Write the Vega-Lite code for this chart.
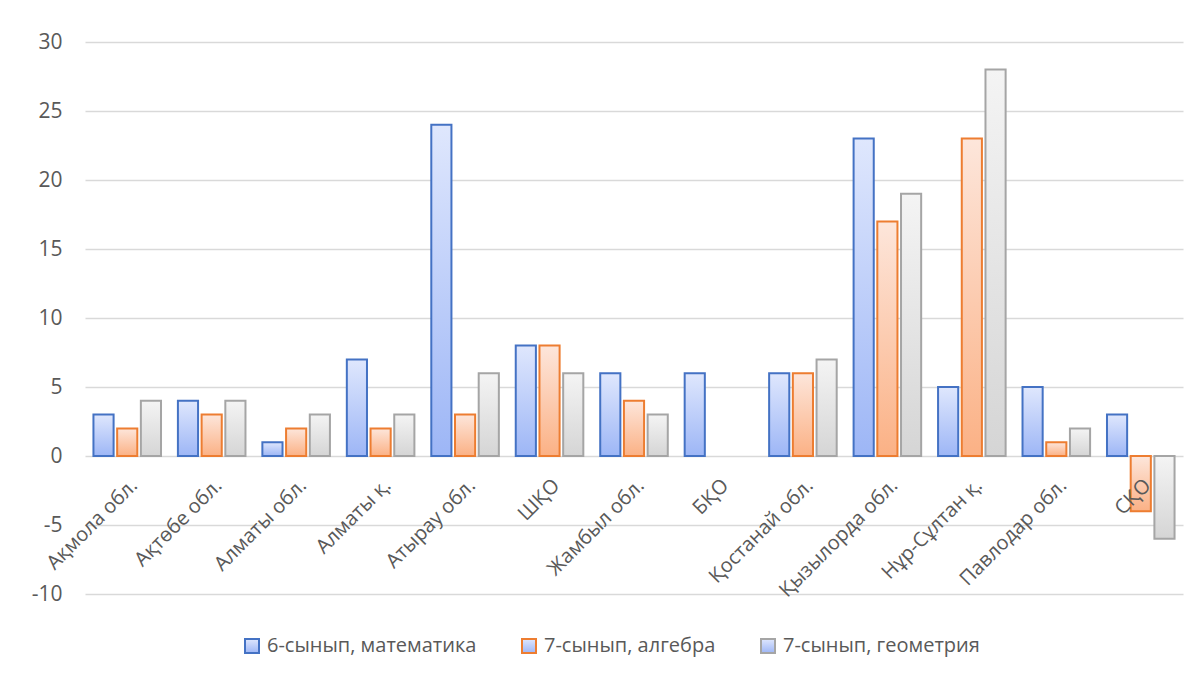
{
  "$schema": "https://vega.github.io/schema/vega-lite/v6.json",
  "autosize": "none",
  "width": 1098,
  "height": 552,
  "padding": {"left": 85, "top": 42, "right": 19, "bottom": 85},
  "background": "white",
  "config": {"view": {"stroke": null}, "font": "Open Sans"},
  "data": {
    "values": [
      {"region": "Ақмола обл.", "series": "6-сынып, математика", "value": 3},
      {"region": "Ақмола обл.", "series": "7-сынып, алгебра", "value": 2},
      {"region": "Ақмола обл.", "series": "7-сынып, геометрия", "value": 4},
      {"region": "Ақтөбе обл.", "series": "6-сынып, математика", "value": 4},
      {"region": "Ақтөбе обл.", "series": "7-сынып, алгебра", "value": 3},
      {"region": "Ақтөбе обл.", "series": "7-сынып, геометрия", "value": 4},
      {"region": "Алматы обл.", "series": "6-сынып, математика", "value": 1},
      {"region": "Алматы обл.", "series": "7-сынып, алгебра", "value": 2},
      {"region": "Алматы обл.", "series": "7-сынып, геометрия", "value": 3},
      {"region": "Алматы қ.", "series": "6-сынып, математика", "value": 7},
      {"region": "Алматы қ.", "series": "7-сынып, алгебра", "value": 2},
      {"region": "Алматы қ.", "series": "7-сынып, геометрия", "value": 3},
      {"region": "Атырау обл.", "series": "6-сынып, математика", "value": 24},
      {"region": "Атырау обл.", "series": "7-сынып, алгебра", "value": 3},
      {"region": "Атырау обл.", "series": "7-сынып, геометрия", "value": 6},
      {"region": "ШҚО", "series": "6-сынып, математика", "value": 8},
      {"region": "ШҚО", "series": "7-сынып, алгебра", "value": 8},
      {"region": "ШҚО", "series": "7-сынып, геометрия", "value": 6},
      {"region": "Жамбыл обл.", "series": "6-сынып, математика", "value": 6},
      {"region": "Жамбыл обл.", "series": "7-сынып, алгебра", "value": 4},
      {"region": "Жамбыл обл.", "series": "7-сынып, геометрия", "value": 3},
      {"region": "БҚО", "series": "6-сынып, математика", "value": 6},
      {"region": "Қостанай обл.", "series": "6-сынып, математика", "value": 6},
      {"region": "Қостанай обл.", "series": "7-сынып, алгебра", "value": 6},
      {"region": "Қостанай обл.", "series": "7-сынып, геометрия", "value": 7},
      {"region": "Қызылорда обл.", "series": "6-сынып, математика", "value": 23},
      {"region": "Қызылорда обл.", "series": "7-сынып, алгебра", "value": 17},
      {"region": "Қызылорда обл.", "series": "7-сынып, геометрия", "value": 19},
      {"region": "Нұр-Сұлтан қ.", "series": "6-сынып, математика", "value": 5},
      {"region": "Нұр-Сұлтан қ.", "series": "7-сынып, алгебра", "value": 23},
      {"region": "Нұр-Сұлтан қ.", "series": "7-сынып, геометрия", "value": 28},
      {"region": "Павлодар обл.", "series": "6-сынып, математика", "value": 5},
      {"region": "Павлодар обл.", "series": "7-сынып, алгебра", "value": 1},
      {"region": "Павлодар обл.", "series": "7-сынып, геометрия", "value": 2},
      {"region": "СҚО", "series": "6-сынып, математика", "value": 3},
      {"region": "СҚО", "series": "7-сынып, алгебра", "value": -4},
      {"region": "СҚО", "series": "7-сынып, геометрия", "value": -6}
    ]
  },
  "encoding": {
    "x": {
      "field": "region", "type": "nominal", "sort": null,
      "scale": {"domain": ["Ақмола обл.", "Ақтөбе обл.", "Алматы обл.", "Алматы қ.", "Атырау обл.", "ШҚО", "Жамбыл обл.", "БҚО", "Қостанай обл.", "Қызылорда обл.", "Нұр-Сұлтан қ.", "Павлодар обл.", "СҚО"], "paddingInner": 0.2, "paddingOuter": 0.1},
      "axis": {"title": null, "labelAngle": -45, "offset": -138, "domain": false, "ticks": false, "labelFontSize": 20, "labelColor": "#595959", "labelPadding": 19, "labelFont": "Open Sans", "labelOverlap": false, "labelLimit": 0, "zindex": 1}
    },
    "xOffset": {
      "field": "series", "type": "nominal", "sort": null,
      "scale": {"domain": ["6-сынып, математика", "7-сынып, алгебра", "7-сынып, геометрия"], "paddingInner": 0.15}
    },
    "y": {
      "field": "value", "type": "quantitative",
      "scale": {"domain": [-10, 30], "nice": false},
      "axis": {"title": null, "values": [-10, -5, 0, 5, 10, 15, 20, 25, 30], "labelExpr": "'' + datum.value", "domain": false, "ticks": false, "gridColor": "#d9d9d9", "gridWidth": 1.5, "labelFontSize": 21, "labelColor": "#595959", "labelPadding": 23, "labelFont": "Open Sans"}
    },
    "stroke": {
      "field": "series", "type": "nominal",
      "scale": {"domain": ["6-сынып, математика", "7-сынып, алгебра", "7-сынып, геометрия"], "range": ["#4472c4", "#ed7d31", "#a5a5a5"]},
      "legend": {
        "orient": "none", "legendX": 157, "legendY": 594, "direction": "horizontal", "title": null,
        "symbolType": "square", "symbolSize": 196, "symbolStrokeWidth": 2, "labelFontSize": 20, "labelColor": "#595959",
        "labelFont": "Open Sans", "labelOffset": 5, "columnPadding": 41, "labelLimit": 0,
        "encode": {"symbols": {"update": {"fill": {"signal": "datum.value === '6-сынып, математика' ? '#c3d3fb' : datum.value === '7-сынып, алгебра' ? '#fccbb0' : '#e6e6e6'"}, "fillOpacity": {"value": 1}}}}
      }
    }
  },
  "layer": [
    {
      "transform": [{"filter": "datum.series === '6-сынып, математика'"}],
      "mark": {"type": "bar", "strokeWidth": 2, "clip": false,
        "fill": {"gradient": "linear", "x1": 0, "y1": 0, "x2": 0, "y2": 1, "stops": [{"offset": 0, "color": "#dfe7fd"}, {"offset": 1, "color": "#9db6f6"}]}}
    },
    {
      "transform": [{"filter": "datum.series === '7-сынып, алгебра'"}],
      "mark": {"type": "bar", "strokeWidth": 2, "clip": false,
        "fill": {"gradient": "linear", "x1": 0, "y1": 0, "x2": 0, "y2": 1, "stops": [{"offset": 0, "color": "#fde6db"}, {"offset": 1, "color": "#fbb185"}]}}
    },
    {
      "transform": [{"filter": "datum.series === '7-сынып, геометрия'"}],
      "mark": {"type": "bar", "strokeWidth": 2, "clip": false,
        "fill": {"gradient": "linear", "x1": 0, "y1": 0, "x2": 0, "y2": 1, "stops": [{"offset": 0, "color": "#f4f4f4"}, {"offset": 1, "color": "#d5d5d5"}]}}
    }
  ]
}
